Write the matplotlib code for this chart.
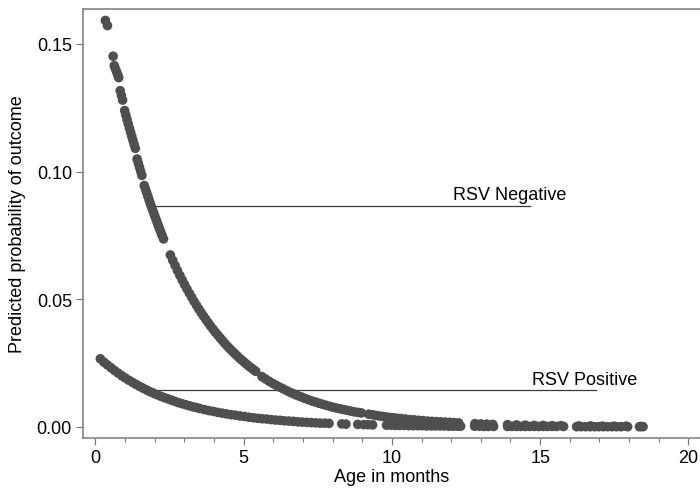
import numpy as np
import matplotlib.pyplot as plt

plt.rcParams['font.family'] = ['Liberation Sans', 'DejaVu Sans']

# RSV negative: age (months) and predicted probability
neg_age = [0.34, 0.41, 0.60,
           0.64, 0.68, 0.72, 0.76, 0.79,
           0.84, 0.88, 0.92,
           0.99, 1.03, 1.07, 1.11, 1.15, 1.19, 1.23, 1.27, 1.31, 1.35,
           1.41, 1.45, 1.49, 1.53, 1.57,
           1.65, 1.69, 1.73, 1.77, 1.81, 1.85, 1.89, 1.93, 1.97, 2.01,
           2.05, 2.09, 2.13, 2.17, 2.21, 2.25, 2.30,
           2.53, 2.61, 2.69, 2.77, 2.85, 2.93, 3.01, 3.09, 3.17, 3.25,
           3.33, 3.41, 3.49, 3.57, 3.65, 3.73, 3.81, 3.89, 3.97, 4.05,
           4.13, 4.21, 4.29, 4.37, 4.45, 4.53, 4.61, 4.69, 4.77, 4.85,
           4.93, 5.01, 5.09, 5.17, 5.25, 5.33, 5.41,
           5.62, 5.74, 5.86, 5.98, 6.10, 6.22, 6.34, 6.46, 6.58, 6.70,
           6.82, 6.94, 7.06, 7.18, 7.30, 7.42, 7.54, 7.66, 7.78, 7.90,
           8.02, 8.14, 8.26, 8.38, 8.50, 8.62, 8.74, 8.86, 8.97,
           9.22, 9.34, 9.46, 9.58, 9.70, 9.82, 9.94, 10.06, 10.18,
           10.30, 10.45, 10.60, 10.75, 10.90, 11.05, 11.20, 11.35, 11.50,
           11.65, 11.80, 11.95, 12.10, 12.25,
           12.80, 13.00, 13.20, 13.40,
           13.90, 14.20, 14.50, 14.80, 15.10, 15.40, 15.70,
           16.30, 16.70, 17.10, 17.50, 17.90, 18.40]
neg_prob = [0.1592, 0.1572, 0.1452,
            0.1415, 0.1402, 0.1390, 0.1378, 0.1368,
            0.1317, 0.1298, 0.1280,
            0.1239, 0.1221, 0.1204, 0.1187, 0.1170, 0.1154, 0.1138, 0.1122, 0.1106, 0.1091,
            0.1049, 0.1033, 0.1017, 0.1001, 0.0985,
            0.0945, 0.0932, 0.0918, 0.0904, 0.0890, 0.0876, 0.0863, 0.0850, 0.0837, 0.0824,
            0.0812, 0.0799, 0.0786, 0.0774, 0.0762, 0.0750, 0.0736,
            0.0673, 0.0652, 0.0632, 0.0612, 0.0593, 0.0575, 0.0557, 0.0540, 0.0523, 0.0507,
            0.0491, 0.0476, 0.0461, 0.0447, 0.0433, 0.0420, 0.0407, 0.0394, 0.0382, 0.0370,
            0.0359, 0.0348, 0.0337, 0.0326, 0.0316, 0.0306, 0.0297, 0.0288, 0.0279, 0.0270,
            0.0262, 0.0254, 0.0246, 0.0238, 0.0231, 0.0224, 0.0217,
            0.0196, 0.0187, 0.0178, 0.0170, 0.0162, 0.0155, 0.0148, 0.0141, 0.0134, 0.0128,
            0.0122, 0.0117, 0.0111, 0.0106, 0.0101, 0.0097, 0.0092, 0.0088, 0.0084, 0.0080,
            0.0076, 0.0073, 0.0070, 0.0067, 0.0064, 0.0061, 0.0058, 0.0056, 0.0054,
            0.0049, 0.0047, 0.0044, 0.0042, 0.0040, 0.0038, 0.0036, 0.0035, 0.0033,
            0.0032, 0.0030, 0.0028, 0.0027, 0.0025, 0.0024, 0.0022, 0.0021, 0.0020,
            0.0019, 0.0018, 0.0017, 0.0016, 0.0015,
            0.0012, 0.0011, 0.0010, 0.0009,
            0.0008, 0.0007, 0.0006, 0.0005, 0.0005, 0.0004, 0.0004,
            0.0003, 0.0003, 0.0002, 0.0002, 0.0002, 0.0001]

# RSV positive
pos_age = [0.17, 0.29, 0.41, 0.53, 0.65, 0.77, 0.89, 1.01, 1.13, 1.25,
           1.37, 1.49, 1.61, 1.73, 1.85, 1.97, 2.09, 2.21, 2.33, 2.45,
           2.57, 2.69, 2.81, 2.93, 3.05, 3.17, 3.29, 3.41, 3.53,
           3.68, 3.83, 3.98, 4.13, 4.28, 4.43, 4.58, 4.73, 4.88, 5.03,
           5.18, 5.33, 5.48, 5.63, 5.78, 5.93, 6.08, 6.23, 6.38, 6.53,
           6.68, 6.83, 6.98, 7.13, 7.28, 7.43, 7.58, 7.73, 7.88,
           8.31, 8.45,
           8.85, 9.05, 9.20, 9.35,
           9.82, 9.97, 10.12, 10.27, 10.42, 10.57, 10.72, 10.87, 11.02,
           11.17, 11.32, 11.47, 11.62, 11.77, 11.92, 12.07, 12.22, 12.32,
           12.79, 12.95, 13.10, 13.25, 13.43,
           13.90, 14.05, 14.20, 14.35, 14.50, 14.65, 14.80, 14.95, 15.10,
           15.25, 15.40, 15.55, 15.79,
           16.23, 16.38, 16.53, 16.68, 16.83, 16.98, 17.13, 17.28, 17.43,
           17.58, 17.73, 17.95,
           18.35, 18.47]
pos_prob = [0.0266, 0.0253, 0.0242, 0.0231, 0.0220, 0.0210, 0.0200, 0.0191, 0.0182, 0.0174,
            0.0166, 0.0158, 0.0151, 0.0144, 0.0137, 0.0131, 0.0125, 0.0119, 0.0114, 0.0109,
            0.0104, 0.0099, 0.0094, 0.0090, 0.0086, 0.0082, 0.0078, 0.0075, 0.0071,
            0.0067, 0.0063, 0.0060, 0.0056, 0.0053, 0.0050, 0.0047, 0.0045, 0.0042, 0.0040,
            0.0037, 0.0035, 0.0033, 0.0031, 0.0030, 0.0028, 0.0026, 0.0025, 0.0023, 0.0022,
            0.0021, 0.0019, 0.0018, 0.0017, 0.0016, 0.0015, 0.0014, 0.0014, 0.0013,
            0.0011, 0.0010,
            0.0009, 0.0008, 0.0008, 0.0007,
            0.0006, 0.0006, 0.0005, 0.0005, 0.0005, 0.0004, 0.0004, 0.0004, 0.0004,
            0.0003, 0.0003, 0.0003, 0.0003, 0.0003, 0.0002, 0.0002, 0.0002, 0.0002,
            0.0002, 0.0002, 0.0001, 0.0001, 0.0001,
            0.0001, 0.0001, 0.0001, 0.0001, 0.0001, 0.0001, 0.0001, 0.0001, 0.0001,
            0.0001, 0.0001, 0.0001, 0.0001,
            0.0000, 0.0000, 0.0000, 0.0000, 0.0000, 0.0000, 0.0000, 0.0000, 0.0000,
            0.0000, 0.0000, 0.0000,
            0.0000, 0.0000]

# label lines: (text, x start, x end, line y, text x, text y)
labels = [("RSV Negative", 2.02, 14.66, 0.0864, 12.06, 0.0893),
          ("RSV Positive", 2.05, 16.89, 0.0145, 14.72, 0.0167)]

fig = plt.figure(figsize=(7, 4.89), dpi=100)
ax = fig.add_axes([83 / 700, 50 / 489, 617 / 700, 429 / 489])

dot_color = '#4f4f4f'
ax.scatter(neg_age, neg_prob, s=48, color=dot_color, edgecolors='none', zorder=3)
ax.scatter(pos_age, pos_prob, s=48, color=dot_color, edgecolors='none', zorder=3)

for text, x0, x1, ly, tx, ty in labels:
    ax.plot([x0, x1], [ly, ly], color='#3a3a3a', lw=0.9, zorder=2)
    ax.text(tx, ty, text, fontsize=13, ha='left', va='baseline', color='black')

ax.set_xlim(-0.415, 20.39)
ax.set_ylim(-0.00443, 0.1637)
ax.set_xticks([0, 5, 10, 15, 20])
ax.set_xticks(np.arange(0, 21, 1), minor=True)
ax.set_yticks([0, 0.05, 0.10, 0.15])
ax.set_yticklabels(['0.00', '0.05', '0.10', '0.15'])

spine_color = '#7a7a7a'
for side in ['left', 'bottom', 'top']:
    ax.spines[side].set_color(spine_color)
    ax.spines[side].set_linewidth(1.1)
ax.spines['right'].set_visible(False)

ax.tick_params(axis='both', which='major', direction='out', length=5, width=0.9,
               color=spine_color, labelsize=13, pad=3)
ax.tick_params(axis='x', which='minor', direction='out', length=3, width=0.8,
               color=spine_color)
ax.tick_params(axis='y', which='minor', left=False)

ax.set_xlabel('Age in months', fontsize=13, labelpad=1.5)
ax.set_ylabel('Predicted probability of outcome', fontsize=13, labelpad=8)

fig.savefig('out.png', dpi=100)
